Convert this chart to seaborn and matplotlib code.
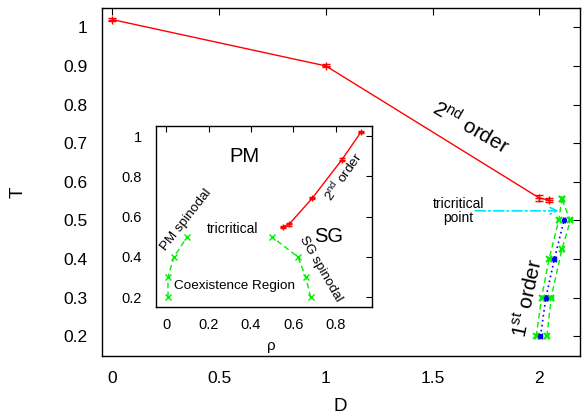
import matplotlib
matplotlib.use("Agg")
import matplotlib.pyplot as plt
import seaborn as sns
import pandas as pd

# ---------------- data: main panel (T vs D) ----------------
D_2nd = [0.0, 1.0, 2.0, 2.045]
T_2nd = [1.02, 0.90, 0.558, 0.553]
T_2nd_err = [0.004, 0.004, 0.008, 0.006]

T_1st = [0.2, 0.3, 0.4, 0.5]
D_1st = [2.005, 2.03, 2.07, 2.115]
D_1st_err = [0.006, 0.006, 0.006, 0.006]

D_spin_lo = [1.985, 2.01, 2.045, 2.09, 2.105]
T_spin_lo = [0.2, 0.3, 0.4, 0.5, 0.555]
D_spin_hi = [2.035, 2.055, 2.105, 2.145, 2.105]
T_spin_hi = [0.2, 0.3, 0.425, 0.5, 0.555]
D_spin_err = [0.007, 0.007, 0.007, 0.007, 0.004]

arrow_from = (1.70, 0.525)
arrow_to = (2.09, 0.525)

x_ticks = [0, 0.5, 1, 1.5, 2]
x_ticklabels = ["0", "0.5", "1", "1.5", "2"]
y_ticks = [0.2, 0.3, 0.4, 0.5, 0.6, 0.7, 0.8, 0.9, 1.0]
y_ticklabels = ["0.2", "0.3", "0.4", "0.5", "0.6", "0.7", "0.8", "0.9", "1"]

# ---------------- data: inset (T vs rho) ----------------
rho_2nd = [0.55, 0.58, 0.69, 0.83, 0.92]
Ti_2nd = [0.55, 0.562, 0.692, 0.883, 1.02]
Ti_2nd_err = [0.006, 0.006, 0.006, 0.006, 0.006]

rho_pm = [0.008, 0.008, 0.036, 0.099]
T_pm = [0.2, 0.3, 0.4, 0.5]
rho_sg = [0.682, 0.659, 0.622, 0.499]
T_sg = [0.2, 0.3, 0.4, 0.5]

ix_ticks = [0, 0.2, 0.4, 0.6, 0.8]
ix_ticklabels = ["0", "0.2", "0.4", "0.6", "0.8"]
iy_ticks = [0.2, 0.4, 0.6, 0.8, 1.0]
iy_ticklabels = ["0.2", "0.4", "0.6", "0.8", "1"]

RED = "#ff0000"
GREEN = "#00ee00"
BLUE = "#0000ff"
CYAN = "#00e5ff"

sns.set_theme(style="white")
plt.rcParams["font.family"] = ["Liberation Sans", "DejaVu Sans"]
plt.rcParams["mathtext.fontset"] = "custom"
plt.rcParams["mathtext.rm"] = "Liberation Sans"
plt.rcParams["mathtext.it"] = "Liberation Sans:italic"
plt.rcParams["axes.edgecolor"] = "black"
plt.rcParams["axes.linewidth"] = 1.0
plt.rcParams["text.color"] = "black"
plt.rcParams["axes.labelcolor"] = "black"
plt.rcParams["xtick.color"] = "black"
plt.rcParams["ytick.color"] = "black"

W, H = 582, 416
fig = plt.figure(figsize=(W / 100, H / 100), dpi=100)


def px_rect(l, t, r, b):
    return [l / W, 1 - b / H, (r - l) / W, (b - t) / H]


def line(ax, x, y, color, ls, marker, ms, mew, lw=1.0):
    d = pd.DataFrame({"x": x, "y": y})
    sns.lineplot(data=d, x="x", y="y", ax=ax, color=color, lw=lw, ls=ls,
                 marker=marker, markersize=ms, markeredgewidth=mew,
                 markeredgecolor=color, markerfacecolor=color,
                 sort=False, estimator=None)


ax = fig.add_axes(px_rect(101.7, 8, 580, 355.7))

line(ax, D_2nd, T_2nd, RED, "-", "+", 6, 1)
ax.errorbar(D_2nd, T_2nd, yerr=T_2nd_err, fmt="none", ecolor=RED,
            elinewidth=1, capsize=3)

for dd, tt in ((D_spin_lo, T_spin_lo), (D_spin_hi, T_spin_hi)):
    line(ax, dd, tt, GREEN, (0, (4, 2.5)), "x", 5, 1.3)
    ax.errorbar(dd, tt, xerr=D_spin_err, fmt="none", ecolor=GREEN,
                elinewidth=1.2, capsize=2.5)

line(ax, D_1st, T_1st, BLUE, (0, (1, 2)), "o", 2.8, 1, lw=1.2)
ax.errorbar(D_1st, T_1st, xerr=D_1st_err, fmt="none", ecolor=BLUE,
            elinewidth=1, capsize=2.5)

ax.annotate("", xy=arrow_to, xytext=arrow_from,
            arrowprops=dict(arrowstyle="->", color=CYAN, lw=1.2,
                            linestyle=(0, (6, 2, 1, 2)), shrinkA=0, shrinkB=0,
                            mutation_scale=12))

ax.text(1.62, 0.525, "tricritical\npoint", ha="center", va="center",
        fontsize=10, linespacing=0.95)
ax.text(1.68, 0.742, r"2$^{\rm nd}$ order", rotation=-30, ha="center",
        va="center", fontsize=15)
ax.text(1.945, 0.30, r"1$^{\rm st}$ order", rotation=78, ha="center",
        va="center", fontsize=15)

ax.set_xlim(-0.05, 2.19)
ax.set_ylim(0.15, 1.05)
ax.set_xticks(x_ticks)
ax.set_xticklabels(x_ticklabels)
ax.set_yticks(y_ticks)
ax.set_yticklabels(y_ticklabels)
ax.tick_params(axis="both", direction="in", top=True, right=True, length=5,
               width=0.8, labelsize=12.5, color="black")
ax.tick_params(axis="x", pad=11)
ax.tick_params(axis="y", pad=10)
ax.set_xlabel("D", fontsize=13.5)
ax.set_ylabel("T", fontsize=13.5)
ax.xaxis.set_label_coords(0.498, -0.122)
ax.yaxis.set_label_coords(-0.158, 0.47)

# ---------------- inset ----------------
axi = fig.add_axes(px_rect(155.7, 126, 372, 307.3))
line(axi, rho_2nd, Ti_2nd, RED, "-", "+", 5, 1)
axi.errorbar(rho_2nd, Ti_2nd, yerr=Ti_2nd_err, fmt="none", ecolor=RED,
             elinewidth=1, capsize=2.5)
for r, t in ((rho_pm, T_pm), (rho_sg, T_sg)):
    line(axi, r, t, GREEN, (0, (4, 2.5)), "x", 5, 1)

axi.set_xlim(-0.05, 0.972)
axi.set_ylim(0.15, 1.05)
axi.set_xticks(ix_ticks)
axi.set_xticklabels(ix_ticklabels)
axi.set_yticks(iy_ticks)
axi.set_yticklabels(iy_ticklabels)
axi.tick_params(axis="both", direction="in", top=True, right=True, length=4,
                width=0.8, labelsize=10.5, color="black")
axi.tick_params(axis="x", pad=8)
axi.tick_params(axis="y", pad=10)
axi.set_xlabel("ρ", fontsize=11)
axi.set_ylabel("")
axi.xaxis.set_label_coords(0.536, -0.175)

axi.text(0.37, 0.90, "PM", ha="center", va="center", fontsize=14.5)
axi.text(0.765, 0.50, "SG", ha="center", va="center", fontsize=14.5)
axi.text(0.315, 0.539, "tricritical", ha="center", va="center", fontsize=10)
axi.text(0.32, 0.254, "Coexistence Region", ha="center", va="center", fontsize=9.7)
axi.text(0.094, 0.583, "PM spinodal", rotation=52, ha="center", va="center",
         fontsize=9.7)
axi.text(0.73, 0.34, "SG spinodal", rotation=-60, ha="center", va="center",
         fontsize=9.7)
axi.text(0.835, 0.80, r"2$^{\rm nd}$ order", rotation=55, ha="center",
         va="center", fontsize=9.7)

fig.savefig("out.png", dpi=100)
